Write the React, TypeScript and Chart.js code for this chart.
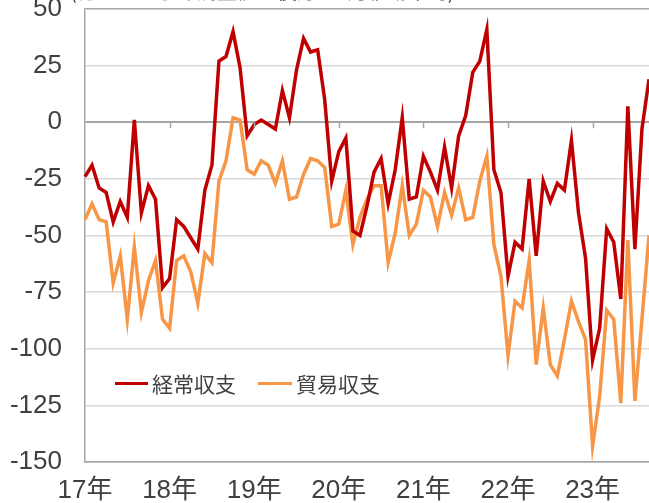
import React, { useEffect, useRef } from "react";
import { Chart, registerables } from "chart.js";

Chart.register(...registerables);

// Monthly categories: Jan 2017 .. Sep 2023
const startYear = 2017;
const monthCount = 81;
const categories: string[] = [];
for (let i = 0; i < monthCount; i++) {
  const y = startYear + Math.floor(i / 12);
  const m = (i % 12) + 1;
  categories.push(`${y}-${m < 10 ? "0" + m : m}`);
}

const yearTickLabels = ["17年", "18年", "19年", "20年", "21年", "22年", "23年"];
const yTicks = [50, 25, 0, -25, -50, -75, -100, -125, -150];

const seriesNames = ["経常収支", "貿易収支"];

// 経常収支 (current account)
const currentAccount = [
  -24, -19, -29, -31, -44, -35, -42, 1, -40, -28, -34, -73,
  -69, -43, -46, -51, -56, -30, -19, 27, 29, 40, 24, -6,
  -1, 1, -1, -3, 14, 2, 23, 37, 31, 32, 10, -26,
  -13, -7, -48, -50, -37, -22, -16, -36, -21, 2, -34, -33,
  -15, -22, -30, -11, -29, -6, 3, 22, 27, 41, -21, -31,
  -68, -53, -56, -25, -59, -26, -35, -27, -30, -8, -40, -60,
  -105, -91, -47, -53, -78, 7, -56, -3, 19,
];

// 貿易収支 (trade balance)
const tradeBalance = [
  -43, -36, -43, -44, -71, -59, -87, -55, -84, -70, -61, -87,
  -91, -61, -59, -66, -80, -58, -62, -26, -17, 2, 1, -21,
  -23, -17, -19, -27, -17, -34, -33, -23, -16, -17, -20, -46,
  -45, -30, -54, -42, -34, -28, -28, -62, -49, -28, -50, -45,
  -30, -33, -46, -31, -41, -29, -43, -42, -26, -15, -54, -68,
  -103, -79, -82, -61, -107, -82, -107, -112, -96, -79, -88, -96,
  -143, -121, -83, -87, -124, -52, -123, -87, -50,
];

const colors = ["#C00000", "#F79646"];

const tickMarksPlugin = {
  id: "zeroLineTicks",
  afterDatasetsDraw(chart: any) {
    const { ctx, scales } = chart;
    const xs = scales.x;
    const ys = scales.y;
    const y0 = ys.getPixelForValue(0);
    ctx.save();
    ctx.strokeStyle = "#a6a6a6";
    ctx.lineWidth = 1.5;
    for (let i = 12; i < categories.length; i += 12) {
      const x = Math.round(xs.getPixelForValue(i)) + 0.5;
      ctx.beginPath();
      ctx.moveTo(x, y0);
      ctx.lineTo(x, y0 + 6);
      ctx.stroke();
    }
    ctx.restore();
  },
};

export default function App() {
  const canvasRef = useRef<HTMLCanvasElement | null>(null);

  useEffect(() => {
    const canvas = canvasRef.current;
    if (!canvas) return;
    const chart = new Chart(canvas, {
      type: "line",
      data: {
        labels: categories,
        datasets: [
          {
            label: seriesNames[0],
            data: currentAccount,
            borderColor: colors[0],
            backgroundColor: colors[0],
            borderWidth: 3.5,
            pointRadius: 0,
            tension: 0,
          },
          {
            label: seriesNames[1],
            data: tradeBalance,
            borderColor: colors[1],
            backgroundColor: colors[1],
            borderWidth: 3.5,
            pointRadius: 0,
            tension: 0,
          },
        ],
      },
      options: {
        animation: false,
        responsive: false,
        maintainAspectRatio: false,
        devicePixelRatio: 1,
        layout: { padding: { top: 9, left: 0, right: 0, bottom: 0 } },
        plugins: {
          legend: { display: false },
          tooltip: { enabled: false },
        },
        scales: {
          x: {
            type: "category",
            offset: false,
            grid: { display: false, drawTicks: false },
            border: { display: true, color: "#a6a6a6", width: 1.5 },
            ticks: {
              autoSkip: false,
              maxRotation: 0,
              minRotation: 0,
              padding: 13,
              color: "#404040",
              font: { family: "'Liberation Sans', Arial, 'Noto Sans CJK JP'", size: 26 },
              callback: (_v: any, idx: number) =>
                idx % 12 === 0 ? yearTickLabels[idx / 12] : "",
            },
            afterFit: (scale: any) => {
              scale.height = 41;
              scale.paddingLeft = 0;
              scale.paddingRight = 0;
            },
          },
          y: {
            min: -150,
            max: 50,
            afterBuildTicks: (scale: any) => {
              scale.ticks = yTicks.map((v) => ({ value: v }));
            },
            grid: {
              drawTicks: false,
              color: (ctx: any) => {
                const v = ctx.tick ? ctx.tick.value : null;
                return v === 0 || v === 50 || v === -150 ? "#a6a6a6" : "#d9d9d9";
              },
              lineWidth: (ctx: any) => {
                const v = ctx.tick ? ctx.tick.value : null;
                return v === 0 ? 2 : 1.5;
              },
            },
            border: { display: true, color: "#a6a6a6", width: 1.5 },
            ticks: {
              padding: 23,
              color: "#404040",
              font: { family: "'Liberation Sans', Arial", size: 26 },
              callback: (v: any) => String(v),
            },
            afterFit: (scale: any) => {
              scale.width = 85;
              scale.paddingTop = 0;
              scale.paddingBottom = 0;
            },
          },
        },
      },
      plugins: [tickMarksPlugin],
    });
    return () => chart.destroy();
  }, []);

  const cjk = "'Noto Sans CJK JP', 'Liberation Sans', sans-serif";

  return (
    <div
      style={{
        position: "absolute",
        left: 0,
        top: 0,
        width: 649,
        height: 503,
        overflow: "hidden",
        background: "#ffffff",
      }}
    >
      <canvas ref={canvasRef} width={649} height={503} style={{ display: "block" }} />
      <div
        style={{
          position: "absolute",
          left: 70,
          top: -19,
          fontFamily: cjk,
          fontSize: 20,
          lineHeight: "20px",
          color: "#404040",
          whiteSpace: "nowrap",
        }}
      >
        (億ドル、季節調整値、後方3ヵ月移動平均)
      </div>
      <div
        style={{
          position: "absolute",
          left: 115,
          top: 370,
          display: "flex",
          alignItems: "center",
          fontFamily: cjk,
          fontSize: 21,
          lineHeight: "26px",
          color: "#404040",
          whiteSpace: "nowrap",
        }}
      >
        <span style={{ display: "inline-block", width: 33, height: 3, background: colors[0] }} />
        <span style={{ marginLeft: 4 }}>{seriesNames[0]}</span>
        <span
          style={{ display: "inline-block", width: 34, height: 3, background: colors[1], marginLeft: 22 }}
        />
        <span style={{ marginLeft: 4 }}>{seriesNames[1]}</span>
      </div>
    </div>
  );
}
